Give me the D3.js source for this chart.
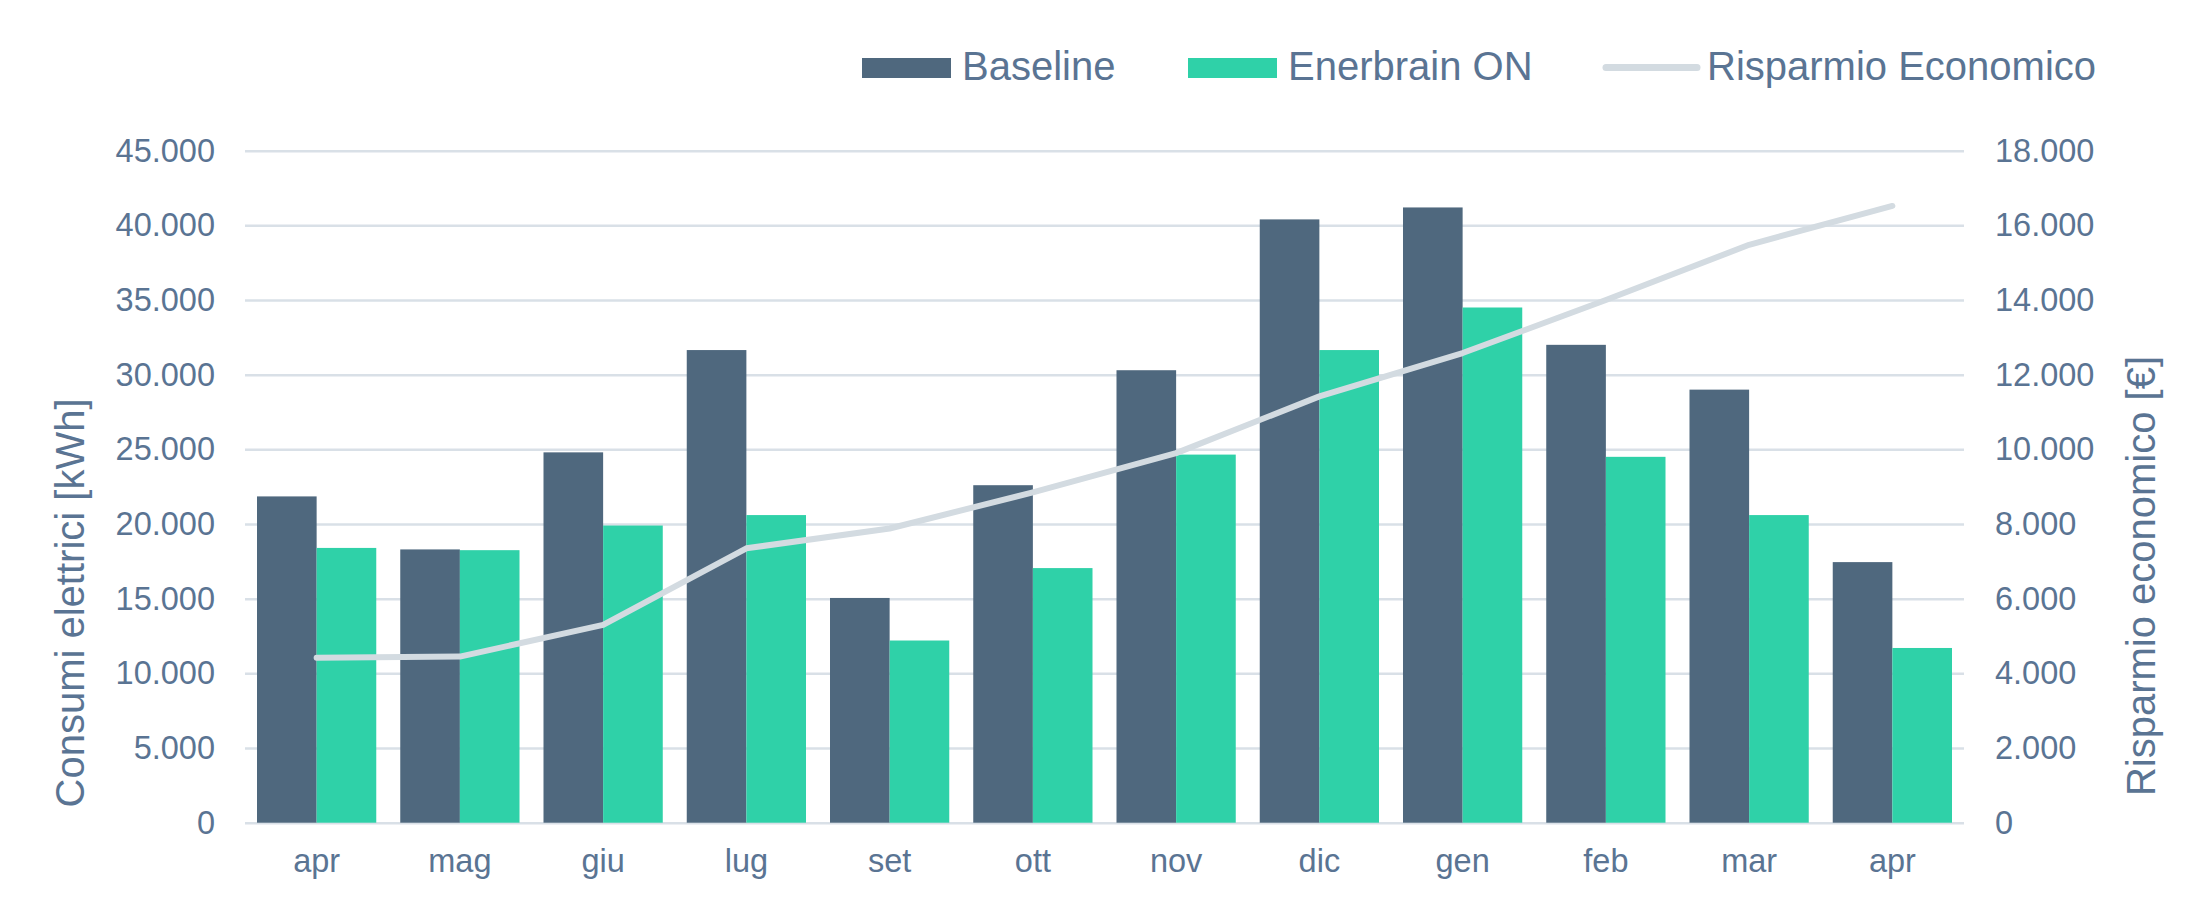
<!DOCTYPE html>
<html>
<head>
<meta charset="utf-8">
<script src="https://cdn.jsdelivr.net/npm/d3@7"></script>
<style>
  html, body { margin: 0; padding: 0; background: #ffffff; }
  svg { display: block; }
  text { font-family: "Liberation Sans", Arial, sans-serif; fill: #5A7493; }
</style>
</head>
<body>
<svg id="chart" width="2209" height="909"></svg>
<script>
const months = ["apr", "mag", "giu", "lug", "set", "ott", "nov", "dic", "gen", "feb", "mar", "apr"];
const baseline = [21850, 18300, 24800, 31650, 15050, 22600, 30300, 40400, 41200, 32000, 29000, 17450];
const enerbrain = [18400, 18250, 19900, 20600, 12200, 17050, 24650, 31650, 34500, 24500, 20600, 11700];
const risparmio = [4420, 4450, 5300, 7350, 7880, 8850, 9900, 11420, 12580, 14000, 15480, 16520];
const leftTicks = [0, 5000, 10000, 15000, 20000, 25000, 30000, 35000, 40000, 45000];
const rightTicks = [0, 2000, 4000, 6000, 8000, 10000, 12000, 14000, 16000, 18000];
const seriesNames = ["Baseline", "Enerbrain ON", "Risparmio Economico"];

const colBase = "#4F687E", colGreen = "#2FD1A8", colLine = "#D3DBE1", colGrid = "#D9E0E7";
const txtCol = "#5A7493";

const svg = d3.select("#chart");
const plotL = 245, plotR = 1964, plotT = 150.7, plotB = 822.7;

const locale = d3.formatLocale({ decimal: ",", thousands: ".", grouping: [3], currency: ["€", ""] });
const fmt = locale.format(",");

const idx = months.map((d, i) => i);
const x = d3.scaleBand().domain(idx).range([plotL, plotR]).paddingInner(0.1675).paddingOuter(0.0838);
const xs = d3.scaleBand().domain([0, 1]).range([0, x.bandwidth()]).padding(0);
const yL = d3.scaleLinear().domain([0, 45000]).range([plotB, plotT]);
const yR = d3.scaleLinear().domain([0, 18000]).range([plotB, plotT]);

// gridlines + left axis
const gAxisL = svg.append("g").attr("transform", `translate(${plotL},0)`)
  .call(d3.axisLeft(yL).tickValues(leftTicks).tickFormat(fmt).tickSize(-(plotR - plotL)).tickPadding(30));
gAxisL.select(".domain").remove();
gAxisL.selectAll(".tick line").attr("stroke", colGrid).attr("stroke-width", 2.5);
gAxisL.selectAll(".tick text").attr("font-size", 32.5).attr("fill", txtCol)
  .attr("font-family", "Liberation Sans, Arial, sans-serif");

const gAxisR = svg.append("g").attr("transform", `translate(${plotR},0)`)
  .call(d3.axisRight(yR).tickValues(rightTicks).tickFormat(fmt).tickSize(0).tickPadding(31));
gAxisR.select(".domain").remove();
gAxisR.selectAll(".tick text").attr("font-size", 32.5).attr("fill", txtCol)
  .attr("font-family", "Liberation Sans, Arial, sans-serif");

// bars
const groups = svg.append("g").selectAll("g").data(idx).join("g")
  .attr("transform", i => `translate(${x(i)},0)`);
groups.append("rect")
  .attr("x", xs(0)).attr("width", xs.bandwidth())
  .attr("y", i => yL(baseline[i])).attr("height", i => yL(0) - yL(baseline[i]))
  .attr("fill", colBase);
groups.append("rect")
  .attr("x", xs(1)).attr("width", xs.bandwidth())
  .attr("y", i => yL(enerbrain[i])).attr("height", i => yL(0) - yL(enerbrain[i]))
  .attr("fill", colGreen);

// x axis
const gX = svg.append("g").attr("transform", `translate(0,${plotB})`)
  .call(d3.axisBottom(x).tickFormat(i => months[i]).tickSize(0).tickPadding(26));
gX.select(".domain").remove();
gX.selectAll(".tick text").attr("font-size", 32.5).attr("fill", txtCol)
  .attr("font-family", "Liberation Sans, Arial, sans-serif");

// line
const line = d3.line().x((d, i) => x(i) + x.bandwidth() / 2).y(d => yR(d));
svg.append("path").datum(risparmio)
  .attr("d", line).attr("fill", "none").attr("stroke", colLine)
  .attr("stroke-width", 6).attr("stroke-linecap", "round").attr("stroke-linejoin", "round");

// axis titles
svg.append("text").attr("transform", "translate(84,603) rotate(-90)")
  .attr("text-anchor", "middle").attr("font-size", 40).text("Consumi elettrici [kWh]");
svg.append("text").attr("transform", "translate(2155,576) rotate(-90)")
  .attr("text-anchor", "middle").attr("font-size", 40).text("Risparmio economico [€]");

// legend
const lg = svg.append("g");
lg.append("rect").attr("x", 862).attr("y", 58).attr("width", 89).attr("height", 20).attr("fill", colBase);
lg.append("text").attr("x", 962).attr("y", 80).attr("font-size", 40).text(seriesNames[0]);
lg.append("rect").attr("x", 1188).attr("y", 58).attr("width", 89).attr("height", 20).attr("fill", colGreen);
lg.append("text").attr("x", 1288).attr("y", 80).attr("font-size", 40).text(seriesNames[1]);
lg.append("line").attr("x1", 1606).attr("x2", 1697).attr("y1", 67.5).attr("y2", 67.5)
  .attr("stroke", colLine).attr("stroke-width", 7).attr("stroke-linecap", "round");
lg.append("text").attr("x", 1707).attr("y", 80).attr("font-size", 40).text(seriesNames[2]);
</script>
</body>
</html>
